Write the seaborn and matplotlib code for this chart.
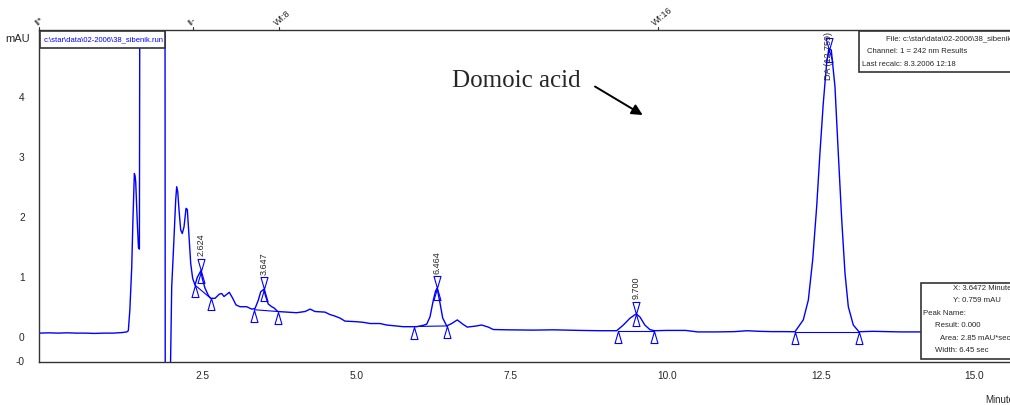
import matplotlib
matplotlib.use("Agg")
import matplotlib.pyplot as plt
import matplotlib.transforms as mtransforms
from matplotlib.path import Path
from matplotlib.patches import Rectangle
import seaborn as sns

# Chromatogram trace (time in minutes, signal in mAU)
time_min = [
    0.00, 0.15, 0.30, 0.45, 0.60, 0.75, 0.90, 1.05, 1.20, 1.35, 1.42, 1.445,
    1.47, 1.50, 1.52, 1.543, 1.555, 1.565, 1.59, 1.61, 1.625, 1.635,
    2.04, 2.045, 2.123, 2.15, 2.176, 2.215, 2.231, 2.248, 2.269, 2.296,
    2.322, 2.350, 2.383, 2.404, 2.431, 2.459, 2.491, 2.529, 2.566, 2.624,
    2.647, 2.691, 2.745, 2.784, 2.854, 2.924, 2.963, 3.000, 3.086, 3.142,
    3.195, 3.260, 3.369, 3.450, 3.504, 3.558, 3.597, 3.647, 3.678, 3.720,
    3.775, 3.813, 3.873, 4.019, 4.18, 4.317, 4.40, 4.48, 4.642, 4.72,
    4.80, 4.886, 4.967, 5.157, 5.264, 5.373, 5.535, 5.645, 5.914, 6.132,
    6.239, 6.295, 6.348, 6.402, 6.438, 6.464, 6.511, 6.555, 6.620, 6.701,
    6.792, 6.880, 6.954, 7.107, 7.188, 7.296, 7.377, 7.60, 8.027, 8.352,
    8.786, 9.111, 9.383, 9.49, 9.60, 9.70, 9.76, 9.84, 9.92, 9.993,
    10.2, 10.5, 10.7, 11.0, 11.3, 11.5, 11.7, 11.9, 12.1, 12.28,
    12.415, 12.497, 12.568, 12.633, 12.686, 12.74, 12.795, 12.83, 12.87, 12.93,
    12.984, 13.04, 13.093, 13.147, 13.228, 13.32, 13.55, 14.0, 14.5, 15.0,
    15.5, 15.8,
]
signal_mau = [
    0.06, 0.065, 0.06, 0.065, 0.06, 0.06, 0.055, 0.06, 0.06, 0.07, 0.08, 0.10,
    0.45, 1.15, 1.95, 2.72, 2.68, 2.58, 1.92, 1.48, 1.46, 8.0,
    8.0, -1.0, -1.0, 0.83, 1.39, 2.28, 2.50, 2.42, 2.11, 1.78,
    1.72, 1.83, 2.14, 2.12, 1.67, 1.22, 0.97, 0.86, 0.99, 1.10,
    0.97, 0.81, 0.69, 0.64, 0.64, 0.71, 0.72, 0.67, 0.74, 0.64,
    0.53, 0.50, 0.50, 0.46, 0.47, 0.61, 0.75, 0.79, 0.67, 0.545,
    0.50, 0.48, 0.42, 0.41, 0.40, 0.42, 0.46, 0.42, 0.41, 0.37,
    0.345, 0.31, 0.26, 0.25, 0.24, 0.22, 0.22, 0.195, 0.167, 0.167,
    0.19, 0.21, 0.33, 0.61, 0.76, 0.81, 0.56, 0.31, 0.18, 0.22,
    0.28, 0.21, 0.16, 0.18, 0.195, 0.16, 0.12, 0.115, 0.11, 0.115,
    0.105, 0.10, 0.10, 0.195, 0.31, 0.38, 0.33, 0.195, 0.12, 0.10,
    0.105, 0.105, 0.08, 0.08, 0.085, 0.10, 0.09, 0.085, 0.085, 0.083,
    0.28, 0.61, 1.28, 2.17, 3.06, 3.89, 4.56, 4.80, 4.78, 4.17,
    3.06, 1.95, 1.06, 0.50, 0.195, 0.083, 0.09, 0.08, 0.08, 0.08,
    0.08, 0.08,
]

# Integrated peaks: apex, start and end of each integration baseline
peak_labels = ["2.624", "3.647", "6.464", "9.700", "DA (12.759)"]
peak_times = [2.624, 3.647, 6.464, 9.700, 12.83]
peak_heights = [1.10, 0.79, 0.81, 0.38, 4.78]
peak_start_t = [2.529, 3.49, 6.09, 9.40, 12.28]
peak_start_v = [0.86, 0.45, 0.17, 0.10, 0.083]
peak_end_t = [2.784, 3.873, 6.63, 9.993, 13.32]
peak_end_v = [0.64, 0.42, 0.18, 0.10, 0.083]

# Timed events marked along the top edge
event_times = [0.0, 2.5, 3.9, 10.05]
event_labels = ["II*", "II-", "WI:8", "WI:16"]

x_ticks = [0.0, 2.5, 5.0, 7.5, 10.0, 12.5, 15.0]
x_tick_labels = ["", "2.5", "5.0", "7.5", "10.0", "12.5", "15.0"]
y_ticks = [-0.41, 0, 1, 2, 3, 4, 5.07]
y_tick_labels = ["-0", "0", "1", "2", "3", "4", ""]

run_file = "c:\\star\\data\\02-2006\\38_sibenik.run"
info_top = ["File: " + run_file, "Channel: 1 = 242 nm Results",
            "Last recalc: 8.3.2006 12:18"]
info_cursor = ["X: 3.6472 Minutes", "Y: 0.759 mAU", "Peak Name:",
               "Result: 0.000", "Area: 2.85 mAU*sec", "Width: 6.45 sec"]

BLUE = "#0000ff"
DARK = "#333333"

sns.set_style("white")
plt.rcParams["font.family"] = ["Liberation Sans", "DejaVu Sans"]

W, H = 1010, 405
fig = plt.figure(figsize=(W / 100, H / 100), dpi=100)


def fx(px):
    return px / W


def fy(py):
    return 1 - py / H


ax = fig.add_axes([fx(38.5), fy(361.5), fx(1010) - fx(38.5), fy(30) - fy(361.5)])

# trace
sns.lineplot(x=time_min, y=signal_mau, sort=False, estimator=None,
             color=BLUE, linewidth=1.0, ax=ax)

# integration baselines
for st, sv, et, ev in zip(peak_start_t, peak_start_v, peak_end_t, peak_end_v):
    ax.plot([st, et], [sv, ev], color=BLUE, lw=0.8)

# start/end markers (tall open triangles) and apex markers (hourglass)
w = 0.29
tri = Path([(0, 0), (-w, -1), (w, -1), (0, 0)],
           [Path.MOVETO, Path.LINETO, Path.LINETO, Path.CLOSEPOLY])
hourglass = Path([(0, 0), (-w, 1), (w, 1), (0, 0),
                  (0, 0), (-w, -1), (w, -1), (0, 0)],
                 [Path.MOVETO, Path.LINETO, Path.LINETO, Path.CLOSEPOLY] * 2)
ax.plot(peak_start_t + peak_end_t, peak_start_v + peak_end_v, ls="none",
        marker=tri, ms=17.3, mfc="none", mec=BLUE, mew=0.8)
ax.plot(peak_times, peak_heights, ls="none", marker=hourglass, ms=17.3,
        mfc="none", mec=BLUE, mew=0.8)

ylo, yhi = -0.413, 5.112
for lab, t, v in zip(peak_labels, peak_times, peak_heights):
    if lab.startswith("DA"):
        ax.annotate(lab, xy=(t, yhi), xytext=(0, -1.5), textcoords="offset points",
                    rotation=90, ha="center", va="top", fontsize=6.5)
    else:
        ax.annotate(lab, xy=(t, v), xytext=(0, 10.5), textcoords="offset points",
                    rotation=90, ha="center", va="bottom", fontsize=6.5)

ax.set_xlim(-0.015, 15.775)
ax.set_ylim(ylo, yhi)

# axes styling
for side in ["left", "bottom", "top"]:
    ax.spines[side].set_color(DARK)
    ax.spines[side].set_linewidth(1.0)
ax.spines["right"].set_visible(False)

ax.set_xticks(x_ticks)
ax.set_xticklabels([])
ax.tick_params(axis="x", direction="out", length=7.6, width=0.9, color=DARK)
xtrans = mtransforms.blended_transform_factory(ax.transData, ax.transAxes)
for t, lab in zip(x_ticks, x_tick_labels):
    ax.annotate(lab, xy=(t, 0), xycoords=xtrans, xytext=(1.7, -6.5),
                textcoords="offset points", ha="left", va="top", fontsize=7.3)

ax.set_yticks(y_ticks)
ax.set_yticklabels(y_tick_labels, fontsize=7.3)
ax.tick_params(axis="y", direction="out", length=8.5, width=0.9, color=DARK, pad=1.5)
ax.set_xlabel("")
ax.set_ylabel("")
fig.text(fx(5), fy(39.5), "mAU", fontsize=8, va="center", ha="left")

# event marks on the top edge
for t, lab in zip(event_times, event_labels):
    ax.plot([t, t], [1.0, 1.0 + 3 / 331.5], transform=xtrans, color=DARK,
            lw=0.8, clip_on=False)
    ax.annotate(lab, xy=(t, 1.0), xycoords=xtrans, xytext=(-1, 1.5),
                textcoords="offset points", rotation=40, rotation_mode="anchor",
                ha="left", va="bottom", fontsize=6.5, color="#222222")

# annotation
ax.text(6.70, 4.17, "Domoic acid", family=["Liberation Serif", "DejaVu Serif"],
        fontsize=18, ha="left", va="baseline")
ax.annotate("", xy=(9.805, 3.695), xytext=(9.03, 4.17),
            arrowprops=dict(arrowstyle="-|>", color="black", lw=1.4,
                            mutation_scale=16, shrinkA=0, shrinkB=0))

# info boxes (pixel positions of the original layout)
def box(x0, y0, x1, y1):
    fig.add_artist(Rectangle((fx(x0), fy(y1)), fx(x1) - fx(x0), fy(y0) - fy(y1),
                             transform=fig.transFigure, facecolor="white",
                             edgecolor=DARK, linewidth=1.2, zorder=5))


box(40, 31, 165, 48)
fig.text(fx(44), fy(39.5), run_file, color=BLUE, fontsize=5.5, va="center",
         ha="left", zorder=6)

box(859.3, 31, 1016, 72)
for lab, x, y in zip(info_top, [886, 866.7, 861.7], [39, 51.5, 64]):
    fig.text(fx(x), fy(y), lab, fontsize=5.6, va="center", ha="left", zorder=6)

box(920.7, 283.3, 1016, 359)
for lab, x, y in zip(info_cursor, [953.3, 953.3, 923.3, 935, 940, 935],
                     [289, 301, 313.3, 325.7, 338, 350]):
    fig.text(fx(x), fy(y), lab, fontsize=5.6, va="center", ha="left", zorder=6)

fig.text(fx(985), fy(400), "Minutes", fontsize=7, va="center", ha="left")

fig.savefig("out.png", dpi=100)
